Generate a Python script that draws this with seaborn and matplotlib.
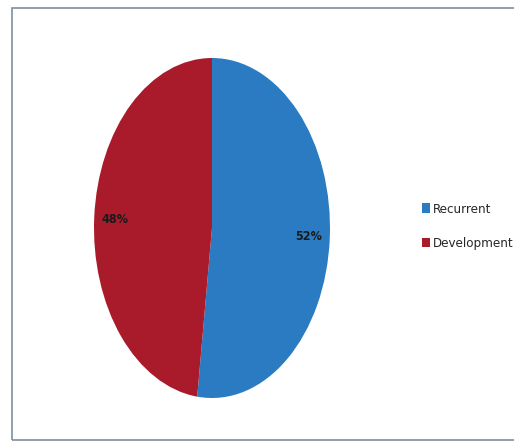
import matplotlib
matplotlib.use("Agg")
import matplotlib.pyplot as plt
import seaborn as sns
from matplotlib.patches import Rectangle

# data
labels = ["Recurrent", "Development"]
shares = [52, 48]
colors = ["#2a7bc1", "#a91b2b"]

sns.set_theme(style="white")
plt.rcParams['font.family'] = ['DejaVu Sans']
plt.rcParams['font.stretch'] = 'condensed'

fig = plt.figure(figsize=(5.14, 4.44), dpi=100)
fig.patch.set_facecolor("white")

# outer frame of the chart box
fig.patches.append(Rectangle((12/514, 4/444), 1.2, 432/444, transform=fig.transFigure,
                             fill=False, edgecolor="#7d8fa0", linewidth=1.2))

ax = fig.add_axes([94/514, 46/444, 236/514, 340/444])
wedges, texts, autotexts = ax.pie(shares, colors=sns.color_palette(colors), startangle=90,
                                  counterclock=False, autopct="%d%%", pctdistance=0.82,
                                  wedgeprops=dict(linewidth=0),
                                  textprops=dict(fontsize=9, color="#1a1a1a", weight="bold"))
ax.set_aspect("auto")
ax.set_xlim(-1, 1)
ax.set_ylim(-1, 1)

fig.legend(wedges, labels, loc="center left", bbox_to_anchor=(410/514, 0.49),
           frameon=False, handlelength=0.6, handleheight=0.7,
           handletextpad=0.25, labelspacing=1.65,
           prop=dict(size=9.5, weight="normal", stretch="condensed"))

fig.savefig("out.png", dpi=100)
